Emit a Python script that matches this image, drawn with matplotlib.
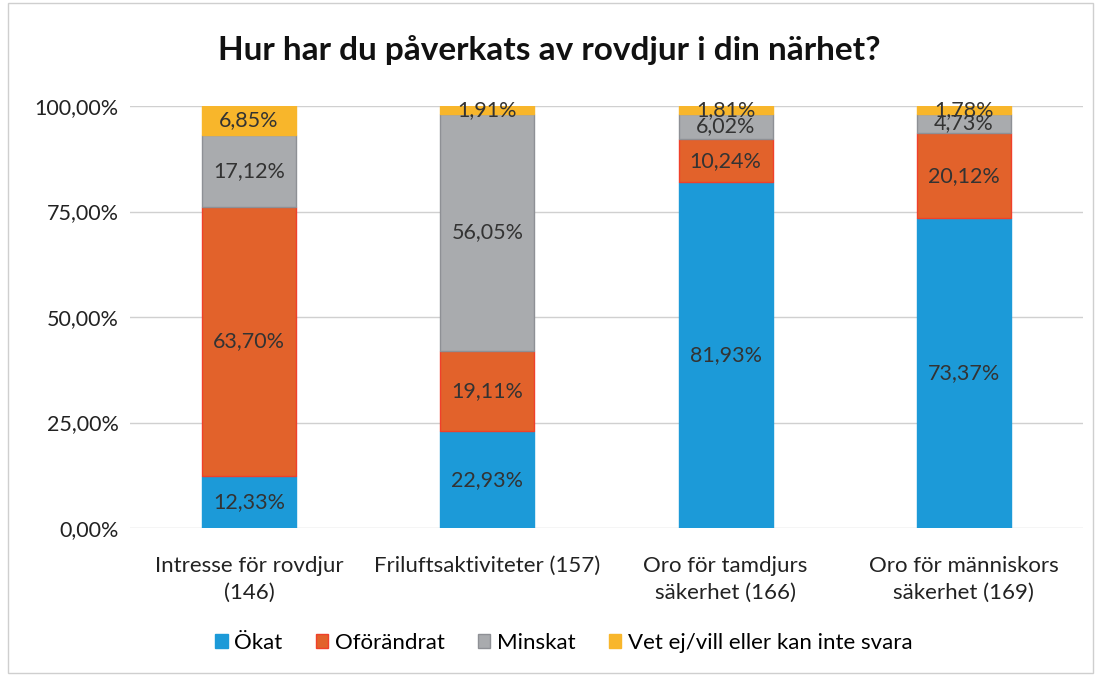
import matplotlib.pyplot as plt
from matplotlib.patches import Rectangle

plt.rcParams['font.family'] = ['Lato', 'DejaVu Sans']

categories = ['Intresse för rovdjur\n(146)', 'Friluftsaktiviteter (157)',
              'Oro för tamdjurs\nsäkerhet (166)', 'Oro för människors\nsäkerhet (169)']
series_names = ['Ökat', 'Oförändrat', 'Minskat', 'Vet ej/vill eller kan inte svara']
okat = [12.33, 22.93, 81.93, 73.37]
oforandrat = [63.70, 19.11, 10.24, 20.12]
minskat = [17.12, 56.05, 6.02, 4.73]
vet_ej = [6.85, 1.91, 1.81, 1.78]
yticks = [0, 25, 50, 75, 100]

colors = ['#1C9AD8', '#E2622B', '#A9ABAE', '#F8B62B']
edges = ['#1C9AD8', '#F0402A', '#8E9095', '#F8B62B']

fig = plt.figure(figsize=(10.99, 6.75), dpi=100)
ax = fig.add_axes([130 / 1099, 1 - 528 / 675, 953 / 1099, 422 / 675])

x = range(len(categories))
bottom = [0] * len(categories)
for vals, name, c, ec in zip([okat, oforandrat, minskat, vet_ej], series_names, colors, edges):
    bars = ax.bar(x, vals, width=0.395, bottom=bottom, color=c, edgecolor=ec,
                  linewidth=1, label=name, zorder=3)
    for i, v in enumerate(vals):
        ax.text(i, bottom[i] + v / 2, ('%.2f%%' % v).replace('.', ','),
                ha='center', va='center', fontsize=15.5, color='#333333', zorder=4)
    bottom = [b + v for b, v in zip(bottom, vals)]

ax.set_xlim(-0.5, 3.5)
ax.set_ylim(0, 100)
ax.set_yticks(yticks)
ax.set_yticklabels(['%d,00%%' % t for t in yticks], fontsize=15.5, color='#222222')
ax.set_xticks(list(x))
ax.set_xticklabels(categories, fontsize=16, color='#222222', linespacing=1.45)
ax.tick_params(length=0, pad=8)
ax.tick_params(axis='x', pad=20)
ax.grid(axis='y', color='#D0D0D0', linewidth=1, zorder=0)
for s in ax.spines.values():
    s.set_visible(False)

fig.text(0.5, 1 - 50 / 675, 'Hur har du påverkats av rovdjur i din närhet?',
         ha='center', va='center', fontsize=24, fontweight='bold', color='#111111')

fig.legend(loc='center', bbox_to_anchor=(0.513, 1 - 643 / 675), ncol=4, frameon=False,
           fontsize=16, handlelength=0.55, handleheight=0.55, handletextpad=0.3,
           columnspacing=1.5)

fig.patches.append(Rectangle((8 / 1099, 2 / 675), 1085 / 1099, 670 / 675,
                             transform=fig.transFigure, fill=False,
                             edgecolor='#CFCFCF', linewidth=1))

fig.savefig('out.png', dpi=100)
